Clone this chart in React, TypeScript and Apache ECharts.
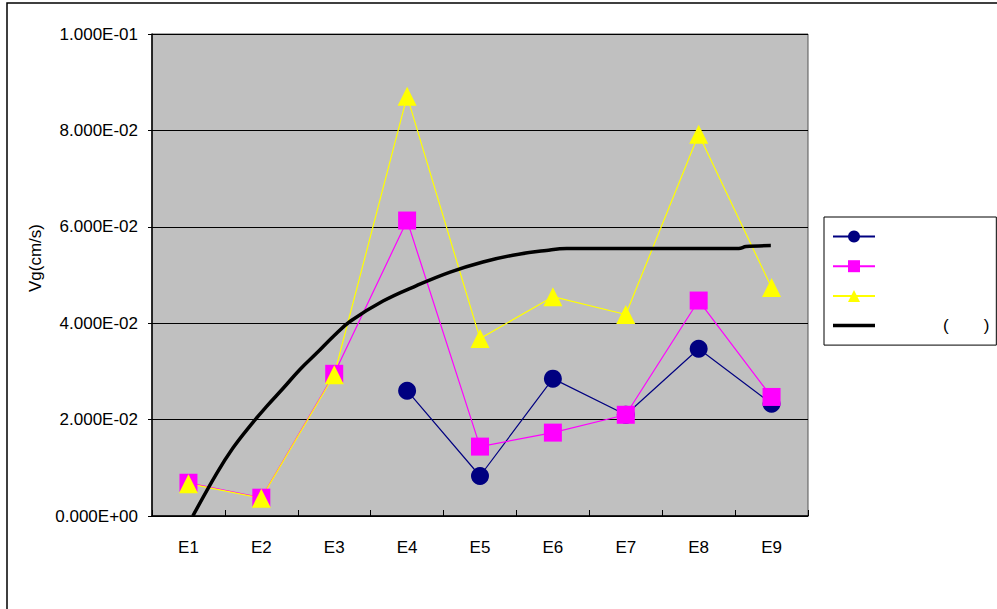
import React, { useEffect, useRef } from "react";
import * as echarts from "echarts";

const categories = ["E1", "E2", "E3", "E4", "E5", "E6", "E7", "E8", "E9"];
const seriesNavy = [null, null, null, 0.026, 0.0083, 0.0285, 0.021, 0.0347, 0.0233];
const seriesPink = [0.0069, 0.0038, 0.0295, 0.0613, 0.0144, 0.0173, 0.021, 0.0447, 0.0247];
const seriesYellow = [0.0067, 0.0037, 0.0293, 0.0871, 0.0368, 0.0455, 0.0418, 0.0792, 0.0474];
// fitted curve: [position in category units (E1 = 0), value]
const curveX = [0.06, 0.39, 0.61, 0.84, 1.07, 1.3, 1.53, 1.76, 1.99, 2.22, 2.67, 3.13, 3.59, 4.04, 4.45, 4.91, 5.19, 7.55, 7.65, 7.99];
const curveY = [0.0, 0.0089, 0.0141, 0.0186, 0.0227, 0.0265, 0.0304, 0.0338, 0.0373, 0.0404, 0.0446, 0.0478, 0.0506, 0.0527, 0.0541, 0.0551, 0.0555, 0.0555, 0.0559, 0.0561];
const yTicks = { min: 0, max: 0.1, interval: 0.02 };
const seriesNames = ["s1", "s2", "s3", "s4"];
const legendLabels: Record<string, string> = { s1: "", s2: "", s3: "", s4: "()" };

const FONT = "'Liberation Sans', Arial, sans-serif";

function sci(v: number): string {
  if (v === 0) return "0.000E+00";
  const e = Math.floor(Math.log10(Math.abs(v)) + 1e-9);
  const m = v / Math.pow(10, e);
  const sign = e < 0 ? "-" : "+";
  const ae = Math.abs(e);
  return m.toFixed(3) + "E" + sign + (ae < 10 ? "0" + ae : String(ae));
}

export default function App() {
  const ref = useRef<HTMLDivElement>(null);
  useEffect(() => {
    document.body.style.margin = "0";
    if (!ref.current) return;
    const chart = echarts.init(ref.current, null, { renderer: "svg" });
    const curve = curveX.map((x, i) => [x, curveY[i]]);
    chart.setOption({
      animation: false,
      backgroundColor: "#ffffff",
      textStyle: { fontFamily: FONT },
      graphic: [
        {
          type: "rect",
          shape: { x: 7, y: 3, width: 1100, height: 700 },
          style: { fill: "none", stroke: "#000", lineWidth: 1.5 },
          silent: true,
          z: -1,
        },
      ],
      grid: {
        left: 152,
        top: 34,
        right: 189,
        bottom: 93,
        show: true,
        backgroundColor: "#C0C0C0",
        borderColor: "#555555",
        borderWidth: 1,
      },
      legend: {
        orient: "vertical",
        left: 824,
        top: 217,
        padding: [11, 7, 11, 8],
        itemGap: 12.7,
        itemWidth: 42,
        itemHeight: 15,
        borderColor: "#000",
        borderWidth: 1,
        backgroundColor: "#fff",
        data: [
          { name: seriesNames[0] },
          { name: seriesNames[1] },
          { name: seriesNames[2] },
          { name: seriesNames[3], icon: "path://M0 0H42V3.5H0Z" },
        ],
        formatter: (name: string) =>
          legendLabels[name] ? "{s|}{t|(}{s2|}{t|)}" : "{e|}",
        textStyle: {
          fontSize: 17,
          color: "#000",
          fontFamily: FONT,
          rich: {
            s: { width: 63 },
            s2: { width: 35 },
            t: { fontSize: 17, fontFamily: FONT, color: "#000" },
            e: { width: 110 },
          },
        },
      },
      xAxis: [
        {
          type: "category",
          data: categories,
          boundaryGap: true,
          axisLine: { lineStyle: { color: "#000", width: 1.5 } },
          axisTick: { show: true, inside: true, length: 6, lineStyle: { color: "#000" } },
          axisLabel: { fontSize: 17, color: "#000", margin: 23, fontFamily: FONT },
          splitLine: { show: false },
        },
        {
          type: "value",
          min: -0.5,
          max: 8.5,
          show: false,
        },
      ],
      yAxis: {
        type: "value",
        min: yTicks.min,
        max: yTicks.max,
        interval: yTicks.interval,
        name: "Vg(cm/s)",
        nameLocation: "middle",
        nameRotate: 90,
        nameGap: 106,
        nameTextStyle: { fontSize: 17, color: "#000", fontFamily: FONT, padding: [0, 0, 0, 34] },
        axisLine: { show: true, onZero: false, lineStyle: { color: "#000", width: 1.5 } },
        axisTick: { show: true, length: 4, lineStyle: { color: "#000" } },
        axisLabel: { fontSize: 17, color: "#000", margin: 14, fontFamily: FONT, formatter: (v: number) => sci(v) },
        splitLine: { show: true, lineStyle: { color: "#000", width: 1 } },
      },
      series: [
        {
          name: seriesNames[0],
          type: "line",
          data: seriesNavy,
          connectNulls: false,
          symbol: "circle",
          symbolSize: 18,
          itemStyle: { color: "#000080" },
          lineStyle: { color: "#000080", width: 1.2 },
        },
        {
          name: seriesNames[1],
          type: "line",
          data: seriesPink,
          symbol: "rect",
          symbolSize: 18,
          itemStyle: { color: "#FF00FF" },
          lineStyle: { color: "#FF00FF", width: 1.2 },
        },
        {
          name: seriesNames[2],
          type: "line",
          data: seriesYellow,
          symbol: "triangle",
          symbolSize: 19,
          itemStyle: { color: "#FFFF00" },
          lineStyle: { color: "#FFFF00", width: 1.2 },
        },
        {
          name: seriesNames[3],
          type: "line",
          xAxisIndex: 1,
          data: curve,
          smooth: 0.4,
          showSymbol: false,
          symbol: "none",
          itemStyle: { color: "#000" },
          lineStyle: { color: "#000", width: 3.5 },
          z: 5,
        },
      ],
    });
    return () => chart.dispose();
  }, []);
  return (
    <div
      ref={ref}
      style={{ width: 997, height: 609, position: "absolute", left: 0, top: 0 }}
    />
  );
}
